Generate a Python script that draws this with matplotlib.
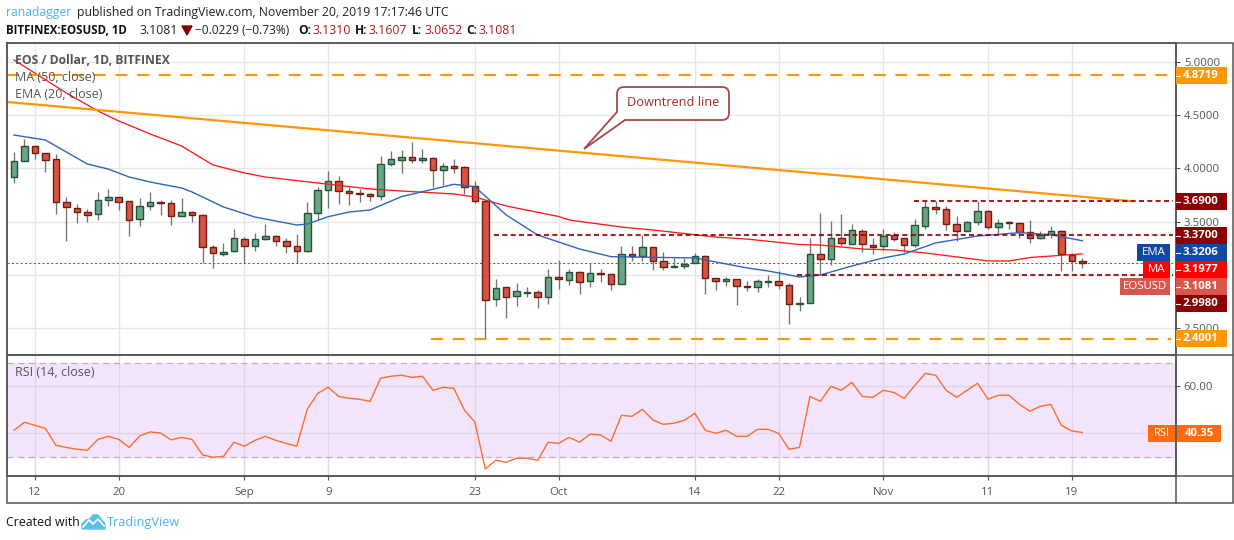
import matplotlib
matplotlib.use("Agg")
import matplotlib.pyplot as plt
from matplotlib.patches import Rectangle, PathPatch, Polygon
from matplotlib.path import Path

W, H = 1234, 540
FONT = "Open Sans"
plt.rcParams["font.family"] = [FONT, "DejaVu Sans"]

# ---------- data ----------
opens = [3.915,4.065,4.206,4.140,4.084,3.681,3.624,3.593,3.568,3.699,3.728,3.690,3.521,3.643,3.681,3.671,3.549,3.587,3.559,3.259,
         3.199,3.221,3.334,3.268,3.334,3.362,3.315,3.268,3.221,3.578,3.793,3.878,3.784,3.765,3.756,3.737,4.043,4.081,4.103,4.081,
         4.093,3.981,4.018,4.009,3.831,3.690,2.771,2.883,2.799,2.833,2.836,2.789,2.977,2.949,3.024,2.940,3.015,3.005,2.911,3.193,
         3.174,3.259,3.127,3.071,3.080,3.108,3.174,2.968,2.940,2.958,2.893,2.883,2.936,2.940,2.902,2.724,2.733,3.193,3.146,3.343,
         3.287,3.409,3.277,3.268,3.371,3.343,3.277,3.456,3.634,3.615,3.474,3.409,3.493,3.596,3.446,3.493,3.484,3.399,3.343,3.380,
         3.409,3.183,3.1310]
closes = [4.065,4.206,4.140,4.075,3.681,3.634,3.587,3.559,3.699,3.728,3.681,3.512,3.643,3.681,3.671,3.549,3.587,3.559,3.259,3.202,
          3.212,3.343,3.268,3.334,3.362,3.315,3.268,3.221,3.578,3.793,3.878,3.784,3.765,3.756,3.737,4.037,4.084,4.103,4.081,4.093,
          3.981,4.018,4.006,3.821,3.690,2.768,2.874,2.789,2.846,2.840,2.789,2.977,2.958,3.024,2.930,3.015,3.005,2.911,3.193,3.174,
          3.259,3.127,3.071,3.080,3.105,3.174,2.968,2.940,2.958,2.893,2.890,2.940,2.940,2.902,2.724,2.733,3.193,3.146,3.343,3.296,
          3.418,3.287,3.265,3.362,3.334,3.277,3.465,3.634,3.615,3.474,3.409,3.493,3.596,3.446,3.484,3.484,3.399,3.343,3.377,3.409,
          3.193,3.127,3.1081]
highs = [4.153,4.272,4.219,4.140,4.134,3.731,3.662,3.615,3.778,3.806,3.728,3.690,3.721,3.778,3.699,3.699,3.721,3.596,3.568,3.277,
         3.296,3.427,3.352,3.390,3.474,3.371,3.343,3.381,3.684,3.821,3.975,3.925,3.821,3.803,3.765,4.115,4.162,4.171,4.247,4.181,
         4.103,4.046,4.087,4.018,3.881,3.703,2.961,2.883,2.924,2.883,2.855,3.055,3.140,3.055,3.033,3.108,3.055,3.005,3.271,3.271,
         3.371,3.259,3.215,3.155,3.155,3.202,3.183,2.968,2.977,2.958,2.940,2.958,2.996,3.033,2.921,2.793,3.343,3.581,3.506,3.568,
         3.474,3.427,3.343,3.427,3.399,3.343,3.521,3.690,3.690,3.643,3.552,3.502,3.690,3.606,3.521,3.502,3.493,3.515,3.409,3.456,
         3.418,3.202,3.1607]
lows = [3.865,4.065,4.087,3.968,3.571,3.321,3.490,3.499,3.518,3.646,3.609,3.368,3.462,3.612,3.562,3.471,3.549,3.499,3.109,3.068,
        3.180,3.212,3.109,3.227,3.324,3.274,3.209,3.109,3.212,3.518,3.631,3.668,3.659,3.687,3.696,3.706,4.025,3.959,4.053,4.053,
        3.824,3.843,3.959,3.759,3.674,2.411,2.711,2.599,2.711,2.796,2.693,2.727,2.871,2.905,2.821,2.886,2.936,2.858,2.911,3.130,
        3.130,3.049,3.049,3.071,3.052,3.108,2.821,2.858,2.896,2.721,2.852,2.840,2.890,2.871,2.542,2.661,2.733,2.996,3.090,3.268,
        3.287,3.212,3.193,3.230,3.315,3.212,3.259,3.427,3.568,3.421,3.315,3.409,3.465,3.427,3.396,3.434,3.343,3.296,3.334,3.343,
        3.040,3.040,3.0652]
rsi = [41.3,44.7,43.4,42.1,34.9,34.0,33.2,32.8,37.4,38.7,37.4,34.0,38.9,40.6,40.1,37.2,38.3,37.4,30.8,29.8,
       30.2,36.2,34.5,37.0,38.7,37.0,35.7,34.5,50.2,57.0,59.6,55.7,54.9,54.5,53.6,63.4,64.3,64.7,63.8,64.3,
       58.3,59.6,59.1,49.9,44.8,24.8,28.5,27.7,29.4,29.4,28.5,36.2,35.7,38.3,36.2,39.6,39.3,36.6,47.7,47.2,
       50.2,45.7,43.8,44.3,45.5,48.5,41.3,40.0,41.3,38.7,38.7,41.7,41.7,40.0,33.2,34.0,55.7,53.6,60.0,58.3,
       61.7,55.7,55.3,58.3,57.4,54.9,60.3,65.5,64.7,58.3,55.3,58.3,61.3,54.5,56.2,56.2,52.3,49.4,51.5,52.3,
       43.4,41.0,40.35]
ma_days = [0,5,8,10,13,16,19,22,24,29,34,37,42,44,47,52,53,58,61,67,70,75,77,81,84,87,93,95,97,102]
ma_vals = [5.016,4.706,4.538,4.444,4.322,4.209,4.031,3.956,3.918,3.862,3.806,3.787,3.759,3.731,3.646,3.548,3.515,3.449,3.421,
           3.355,3.336,3.285,3.280,3.243,3.234,3.206,3.131,3.131,3.163,3.1977]
ema_days = [0,1,3,5,7,9,11,13,16,17,20,23,27,28,30,32,34,37,42,44,47,50,54,57,65,70,72,75,77,80,83,85,88,92,96,99,102]
ema_vals = [4.312,4.296,4.265,4.153,4.040,3.993,3.918,3.871,3.815,3.778,3.637,3.543,3.468,3.477,3.546,3.590,3.609,3.734,3.850,
            3.827,3.562,3.374,3.243,3.171,3.159,3.065,3.037,2.981,2.999,3.084,3.159,3.196,3.300,3.365,3.396,3.377,3.3206]
trend_days = [-0.67, 106.9]
trend_vals = [4.622, 3.690]
price_ticks = [5.0, 4.5, 4.0, 3.5, 3.0, 2.5]
price_labels = ["5.0000", "4.5000", "4.0000", "3.5000", "", "2.5000"]
date_ticks = [2, 10, 22, 30, 44, 52, 65, 73, 83, 93, 101]
date_labels = ["12", "20", "Sep", "9", "23", "Oct", "14", "22", "Nov", "11", "19"]
levels_orange = [(4.8719, -0.7, 110.1), (2.4001, 39.8, 110.5)]
levels_red = [(3.69, 85.9, 110.7), (3.37, 45.8, 110.7), (2.998, 74.8, 110.7)]

# ---------- layout ----------
fig = plt.figure(figsize=(W / 100, H / 100), dpi=100, facecolor="white")
L, R = 6.5, 1175.5
def make_axes(top, bottom):
    return fig.add_axes([L / W, 1 - bottom / H, (R - L) / W, (bottom - top) / H])
ax = make_axes(43, 355.3)
ar = make_axes(355.3, 476.3)
XLIM = (-0.716, 110.9)
GRID = "#e6e6e6"
FRAME = "#555555"
TXT = "#555555"
for a in (ax, ar):
    a.set_xlim(*XLIM)
    a.set_axisbelow(True)
    a.grid(True, color=GRID, lw=1.0)
    a.yaxis.tick_right()
    for s in a.spines.values():
        s.set_color(FRAME)
        s.set_linewidth(1.1)
    a.tick_params(colors=FRAME, labelcolor=TXT, labelsize=8.2, length=3, width=0.8, pad=3)
    a.set_xticks(date_ticks)
ax.set_ylim(2.246, 5.175)
ax.set_yticks(price_ticks)
ax.set_yticklabels(price_labels)
ax.tick_params(axis="x", length=0, labelbottom=False)
ar.set_ylim(21.7, 73.2)
ar.set_yticks([60, 40])
ar.set_yticklabels(["60.00", ""])
ar.set_xticklabels(date_labels)
ar.tick_params(axis="x", pad=5)

# ---------- candles ----------
days = list(range(len(opens)))
UP, UPE = "#6ba583", "#225437"
DN, DNE = "#d75442", "#6f1d12"
ax.vlines(days, lows, highs, color="#737375", lw=0.95, zorder=3)
for d, o, c in zip(days, opens, closes):
    up = c >= o
    ax.bar(d, abs(c - o), bottom=min(o, c), width=0.62,
           facecolor=UP if up else DN, edgecolor=UPE if up else DNE, lw=1.0, zorder=4)

# ---------- lines ----------
ax.plot(ma_days, ma_vals, color="#ff1a1a", lw=0.95, zorder=5)
ax.plot(ema_days, ema_vals, color="#2e66bd", lw=1.0, zorder=5)
ax.plot(trend_days, trend_vals, color="#ff9800", lw=1.6, zorder=5, solid_capstyle="butt")
for v, a0, a1 in levels_orange:
    ax.plot([a0, a1], [v, v], color="#ff9800", lw=1.5, ls=(0, (5.8, 4.6)), zorder=5)
for v, a0, a1 in levels_red:
    ax.plot([a0, a1], [v, v], color="#8b0000", lw=1.5, ls=(0, (2.4, 1.6)), alpha=0.85, zorder=6)
ax.axhline(closes[-1], color="#c8372d", lw=0.75, ls=(0, (2, 2.2)), zorder=2)

# ---------- RSI ----------
ar.axhspan(30, 70, color="#f3e5fd", zorder=0)
ar.grid(True, color="#e0d4e8", lw=1.0)
ar.axhline(70, color="#bfb0c8", lw=0.9, ls=(0, (5, 3.5)), zorder=1)
ar.axhline(30, color="#bfb0c8", lw=0.9, ls=(0, (5, 3.5)), zorder=1)
ar.plot(days, rsi, color="#ff6d2a", lw=1.0, zorder=4)

# ---------- overlay in pixels ----------
ov = fig.add_axes([0, 0, 1, 1], zorder=20)
ov.set_xlim(0, W)
ov.set_ylim(H, 0)
ov.axis("off")
ov.patch.set_alpha(0)

# frame
ov.add_patch(Rectangle((L, 43), 1233 - L, 503.3 - 43, fill=False, edgecolor=FRAME, lw=1.1))
ov.plot([L, 1233], [355.3, 355.3], color=FRAME, lw=1.1)
ov.plot([L, 1233], [476.3, 476.3], color=FRAME, lw=1.1)
ov.plot([R, R], [43, 503.3], color=FRAME, lw=1.1)

# header
def t(x, y, s, color="#222222", size=8.8, weight="normal", ha="left", **kw):
    return ov.text(x, y, s, color=color, fontsize=size, fontweight=weight, ha=ha, va="center", **kw)
t(6, 12.5, "ranadagger", color="#4ab3e8")
t(77, 12.5, "published on TradingView.com, November 20, 2019 17:17:46 UTC")
t(6, 30, "BITFINEX:EOSUSD, 1D", weight="bold", color="#111111", size=8.3)
t(139, 30, "3.1081")
ov.add_patch(Polygon([[182, 26], [192, 26], [187, 35]], closed=True, color="#8b0000"))
t(195, 30, "\u22120.0229 (\u22120.73%)", size=8.6)
for x, s in [(298, "O:"), (355, "H:"), (412, "L:"), (466, "C:")]:
    t(x, 30, s, weight="bold", color="#111111", size=8.6)
for x, s in [(312, "3.1310"), (368, "3.1607"), (424, "3.0652"), (478, "3.1081")]:
    t(x, 30, s, color="#a81d1d")

# pane titles
t(15, 60.5, "EOS / Dollar, 1D, BITFINEX", color=TXT, weight="bold", size=8.7)
t(15, 77.5, "MA (50, close)", color=TXT, size=9)
t(15, 95, "EMA (20, close)", color=TXT, size=9)
t(15, 373, "RSI (14, close)", color=TXT, size=9)

# right-side value boxes
def vbox(y0, y1, color, value, name=None, x0=None):
    ov.add_patch(Rectangle((R + 0.5, y0), 1227 - R - 0.5, y1 - y0, facecolor=color, edgecolor="none", zorder=3))
    ov.plot([R, R + 4], [(y0 + y1) / 2] * 2, color="white", lw=0.8, zorder=4)
    t(1183, (y0 + y1) / 2, value, color="white", size=8.2, weight="bold", zorder=5)
    if name:
        ov.add_patch(Rectangle((x0, y0), 1170 - x0, y1 - y0, facecolor=color, edgecolor="none", zorder=3))
        t((x0 + 1170) / 2, (y0 + y1) / 2, name, color="white", size=8.2, ha="center", zorder=5)
vbox(67, 84, "#ff9800", "4.8719")
vbox(193, 210, "#8b0000", "3.6900")
vbox(227, 244, "#8b0000", "3.3700")
vbox(244, 261, "#1148a0", "3.3206", "EMA", 1137)
vbox(261, 278, "#ff0000", "3.1977", "MA", 1143)
vbox(278, 295, "#d9574a", "3.1081", "EOSUSD", 1120)
vbox(295, 312, "#8b0000", "2.9980")
vbox(330, 347, "#ff9800", "2.4001")
ov.add_patch(Rectangle((1148, 425), 27, 17, facecolor="#ff6a13", edgecolor="none", zorder=3))
ov.add_patch(Rectangle((1177, 425), 44, 17, facecolor="#ff6a13", edgecolor="none", zorder=3))
t(1161.5, 433.5, "RSI", color="white", size=8, ha="center", zorder=5)
t(1185, 433.5, "40.35", color="white", size=8.2, weight="bold", zorder=5)

# callout
l, r_, tp, b, c = 617, 729, 87, 120, 7
verts = [(l, tp + c), (l, tp), (l + c, tp), (r_ - c, tp), (r_, tp), (r_, tp + c), (r_, b - c), (r_, b), (r_ - c, b),
         (625, b), (584, 149), (l, 112), (l, tp + c)]
codes = [Path.MOVETO, Path.CURVE3, Path.CURVE3, Path.LINETO, Path.CURVE3, Path.CURVE3, Path.LINETO, Path.CURVE3, Path.CURVE3,
         Path.LINETO, Path.LINETO, Path.LINETO, Path.CLOSEPOLY]
ov.add_patch(PathPatch(Path(verts, codes), facecolor="white", edgecolor="#a8474b", lw=1.3, zorder=6))
t(673, 102.5, "Downtrend line", color="#a52a2a", size=9.2, ha="center", zorder=7)

# footer
t(6, 522.5, "Created with", color="#111111", size=8.9)
ov.add_patch(Polygon([[82, 529], [82, 524], [86, 520], [90, 519], [93, 515], [98, 515], [101, 519], [105, 524], [105, 529]],
                     closed=True, color="#5bc0e8"))
ov.plot([83, 89, 93, 98, 104], [527, 520, 524, 519, 526], color="white", lw=1.2)
t(107, 522.5, "TradingView", color="#4ab3e8", size=9.2)

fig.savefig("out.png", dpi=100, facecolor="white")
